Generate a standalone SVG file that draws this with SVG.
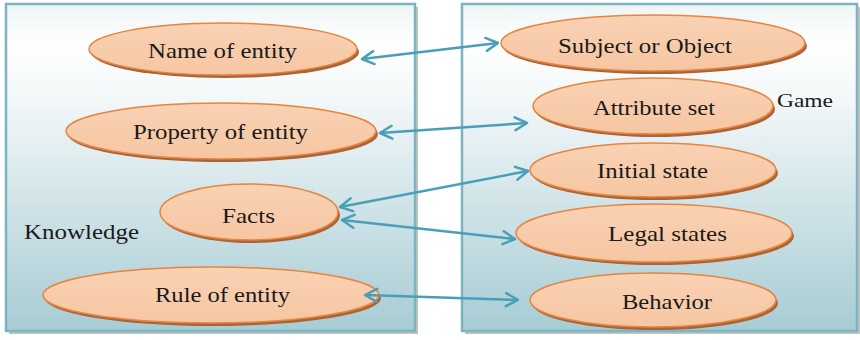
<svg xmlns="http://www.w3.org/2000/svg" width="860" height="340" viewBox="0 0 860 340">
<defs>
<linearGradient id="pg" x1="0" y1="0" x2="0" y2="1">
<stop offset="0" stop-color="#eef4f5"/>
<stop offset="0.12" stop-color="#ffffff"/>
<stop offset="0.3" stop-color="#f2f7f8"/>
<stop offset="1" stop-color="#a7ccd4"/>
</linearGradient>
<linearGradient id="eg" x1="0" y1="0" x2="0" y2="1">
<stop offset="0" stop-color="#f9d2b4"/>
<stop offset="1" stop-color="#f6c6a2"/>
</linearGradient>
<marker id="ah" viewBox="0 0 16 16" markerUnits="userSpaceOnUse" markerWidth="16" markerHeight="16" refX="14" refY="8" orient="auto-start-reverse">
<path d="M2,1.5 L14,8 L2,14.5" fill="none" stroke="#4a9fb8" stroke-width="2.5" stroke-linecap="round" stroke-linejoin="round"/>
</marker>
<style>
.panel{fill:url(#pg);stroke:#7db4c1;stroke-width:2.5}
.pshadow{fill:#9a9a9a;opacity:0.6}
.esh{fill:#a9653a}
.ell{fill:url(#eg);stroke:#e8843f;stroke-width:1.5}
.lbl{font-size:22px;fill:#1a1a1a}
.conn{stroke:#4a9fb8;stroke-width:2.5;fill:none;marker-start:url(#ah);marker-end:url(#ah)}
</style>
</defs>

<g id="panel-knowledge">
<rect class="pshadow" x="9" y="7" width="409" height="327"/>
<rect class="panel" x="6" y="4" width="409" height="327"/>
<text class="lbl" font-family="Liberation Serif, DejaVu Serif, serif" x="24" y="239" textLength="115" lengthAdjust="spacingAndGlyphs">Knowledge</text>
</g>
<g id="panel-game">
<rect class="pshadow" x="465" y="7" width="396" height="327"/>
<rect class="panel" x="462" y="4" width="395" height="327"/>
<text class="lbl" font-family="Liberation Serif, DejaVu Serif, serif" x="777" y="107" style="font-size:19px" textLength="56" lengthAdjust="spacingAndGlyphs">Game</text>
</g>

<g id="name-of-entity">
<ellipse class="esh" cx="225" cy="52" rx="134" ry="26"/>
<ellipse class="ell" cx="223" cy="49" rx="134" ry="26"/>
<text class="lbl" font-family="Liberation Serif, DejaVu Serif, serif" x="148" y="58" textLength="149" lengthAdjust="spacingAndGlyphs">Name of entity</text>
</g>
<g id="property-of-entity">
<ellipse class="esh" cx="223" cy="134" rx="155" ry="28"/>
<ellipse class="ell" cx="221" cy="131" rx="155" ry="28"/>
<text class="lbl" font-family="Liberation Serif, DejaVu Serif, serif" x="133" y="139" textLength="175" lengthAdjust="spacingAndGlyphs">Property of entity</text>
</g>
<g id="facts">
<ellipse class="esh" cx="251" cy="215" rx="89" ry="28"/>
<ellipse class="ell" cx="249" cy="212" rx="89" ry="28"/>
<text class="lbl" font-family="Liberation Serif, DejaVu Serif, serif" x="222" y="223" textLength="53" lengthAdjust="spacingAndGlyphs">Facts</text>
</g>
<g id="rule-of-entity">
<ellipse class="esh" cx="213" cy="298" rx="168" ry="28"/>
<ellipse class="ell" cx="211" cy="295" rx="168" ry="28"/>
<text class="lbl" font-family="Liberation Serif, DejaVu Serif, serif" x="155" y="302" textLength="135" lengthAdjust="spacingAndGlyphs">Rule of entity</text>
</g>

<g id="subject-or-object">
<ellipse class="esh" cx="655" cy="46" rx="152" ry="28"/>
<ellipse class="ell" cx="653" cy="43" rx="152" ry="28"/>
<text class="lbl" font-family="Liberation Serif, DejaVu Serif, serif" x="558" y="53" textLength="174" lengthAdjust="spacingAndGlyphs">Subject or Object</text>
</g>
<g id="attribute-set">
<ellipse class="esh" cx="655" cy="109" rx="120" ry="28"/>
<ellipse class="ell" cx="653" cy="106" rx="120" ry="28"/>
<text class="lbl" font-family="Liberation Serif, DejaVu Serif, serif" x="593" y="115" textLength="122" lengthAdjust="spacingAndGlyphs">Attribute set</text>
</g>
<g id="initial-state">
<ellipse class="esh" cx="655" cy="173" rx="123" ry="27"/>
<ellipse class="ell" cx="653" cy="170" rx="123" ry="27"/>
<text class="lbl" font-family="Liberation Serif, DejaVu Serif, serif" x="597" y="178" textLength="111" lengthAdjust="spacingAndGlyphs">Initial state</text>
</g>
<g id="legal-states">
<ellipse class="esh" cx="656" cy="236" rx="138" ry="29"/>
<ellipse class="ell" cx="654" cy="233" rx="138" ry="29"/>
<text class="lbl" font-family="Liberation Serif, DejaVu Serif, serif" x="608" y="241" textLength="119" lengthAdjust="spacingAndGlyphs">Legal states</text>
</g>
<g id="behavior">
<ellipse class="esh" cx="655" cy="303" rx="123" ry="27"/>
<ellipse class="ell" cx="653" cy="300" rx="123" ry="27"/>
<text class="lbl" font-family="Liberation Serif, DejaVu Serif, serif" x="622" y="309" textLength="90" lengthAdjust="spacingAndGlyphs">Behavior</text>
</g>

<g id="connectors">
<line class="conn" x1="362" y1="59" x2="498" y2="43"/>
<line class="conn" x1="380" y1="133" x2="527" y2="123"/>
<line class="conn" x1="340" y1="207" x2="528" y2="171"/>
<line class="conn" x1="342" y1="220" x2="515" y2="239"/>
<line class="conn" x1="365" y1="295" x2="518" y2="300"/>
</g>
</svg>
